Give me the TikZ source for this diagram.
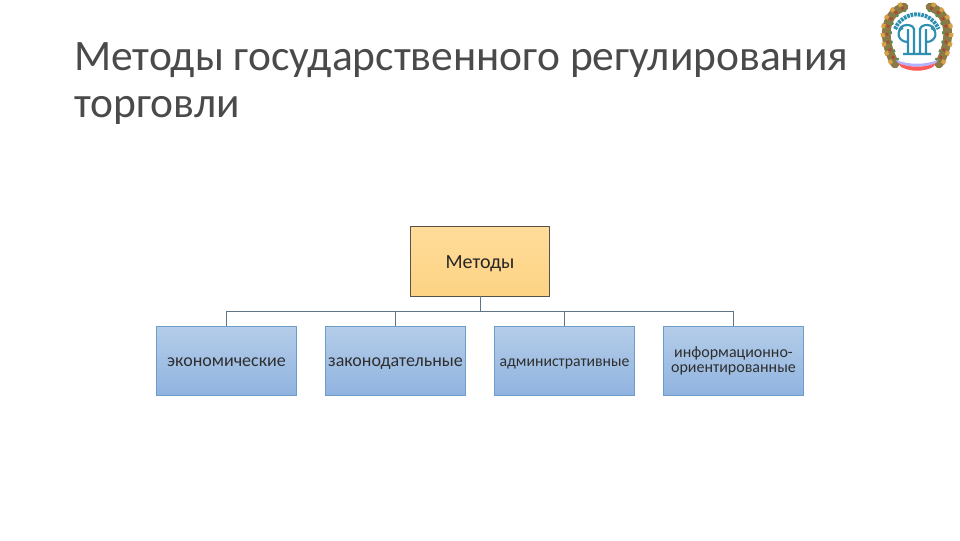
\documentclass[tikz,border=0pt]{standalone}
\usepackage{fontspec}
\setmainfont{Carlito}
\definecolor{titlecol}{HTML}{4A4A4A}
\definecolor{orangeedge}{HTML}{55524A}
\definecolor{blueedge}{HTML}{6E9CCB}
\definecolor{linecol}{HTML}{5F7484}
\definecolor{ortop}{HTML}{FFDC9A}
\definecolor{orbot}{HTML}{FDD384}
\definecolor{bltop}{HTML}{B4CDE9}
\definecolor{blbot}{HTML}{90B3DF}
\definecolor{wreathbase}{HTML}{8A7A45}
\definecolor{wreathred}{HTML}{B5452F}
\definecolor{wreathgreen}{HTML}{5E8A55}
\definecolor{wreathgold}{HTML}{D9A045}
\definecolor{teal}{HTML}{2F8FB0}
\tikzset{
  px/.style={x=0.75pt,y=-0.75pt},
  titletext/.style={anchor=base west,inner sep=0pt,text=titlecol,font=\fontsize{32.6}{36}\selectfont},
  rootbox/.style={draw=orangeedge,line width=0.7pt,top color=ortop,bottom color=orbot,minimum width=104.5pt,minimum height=52.5pt,inner sep=0pt,text height=11.5pt,text depth=1pt,font=\fontsize{15}{18}\selectfont,text=black!85},
  leafbase/.style={draw=blueedge,line width=0.7pt,top color=bltop,bottom color=blbot,minimum width=105pt,minimum height=52pt,inner sep=0pt,text=black!82},
  leafbox/.style={leafbase,text height=8.5pt,text depth=1pt},
  conn/.style={draw=linecol,line width=0.6pt},
}
\begin{document}
\begin{tikzpicture}[px]
\useasboundingbox (0,0) rectangle (960,540);
\fill[white] (0,0) rectangle (960,540);
\node[titletext] (t1) at (74,70) {Методы государственного регулирования};
\node[titletext] (t2) at (74,117) {торговли};
\node[rootbox] (root) at (480,261) {Методы};
\node[leafbox,font=\fontsize{13.5}{15}\selectfont] (a) at (226.5,361) {экономические};
\node[leafbox,font=\fontsize{13.5}{15}\selectfont] (b) at (395.5,361) {законодательные};
\node[leafbox,font=\fontsize{11.8}{14}\selectfont] (c) at (564.5,361) {административные};
\node[leafbase,align=center,font=\fontsize{12}{11.8}\selectfont] (d) at (733.5,361) {\raisebox{-1pt}{информационно-}\\\raisebox{-0.6pt}{ориентированные}};
\coordinate (bus) at (480,311);
\draw[conn] (root.south) -- (bus);
\foreach \n in {a,b,c,d} \draw[conn] (bus) -| (\n.north);
% emblem
\begin{scope}[shift={(917,38)}]
  \foreach \s in {1,-1}{
    \begin{scope}[xscale=\s]
      \draw[line width=6.5pt,color=wreathbase,line cap=round] (13,-31) .. controls (30,-26) and (38,-4) .. (22,26);
      \draw[line width=3pt,dash pattern=on 3pt off 4pt,color=wreathgold] (15,-34) .. controls (34,-27) and (42,-4) .. (25,27);
      \draw[line width=2pt,dash pattern=on 2pt off 4pt,color=wreathred] (13,-30) .. controls (29,-25) and (37,-4) .. (21,25);
      \draw[line width=2pt,dash pattern=on 2pt off 5pt,color=wreathgreen] (11,-28) .. controls (26,-23) and (33,-4) .. (19,22);
    \end{scope}
  }
  \draw[line width=3pt,color=teal,dash pattern=on 2pt off 0.7pt] (-22,-9) arc (202:338:23.5);
  \draw[line width=1.6pt,color=teal]
    (-9,-9) -- (-9,15) (-3,-10) -- (-3,15) (3,-10) -- (3,15) (9,-9) -- (9,15)
    (-18,-6) .. controls (-18,-15) and (-3,-15) .. (-3,-8)
    (18,-6) .. controls (18,-15) and (3,-15) .. (3,-8)
    (-9,4) .. controls (-20,4) and (-21,-8) .. (-14,-10)
    (9,4) .. controls (20,4) and (21,-8) .. (14,-10)
    (-14,16) -- (14,16);
  \fill[blue!30] (-21,22) .. controls (-8,27) and (8,27) .. (21,22) -- (19,25) .. controls (8,30) and (-8,30) .. (-19,25) -- cycle;
  \fill[red!65] (-19,25) .. controls (-8,30) and (8,30) .. (19,25) -- (16,29) .. controls (6,34) and (-6,34) .. (-16,29) -- cycle;
\end{scope}
\end{tikzpicture}
\end{document}
